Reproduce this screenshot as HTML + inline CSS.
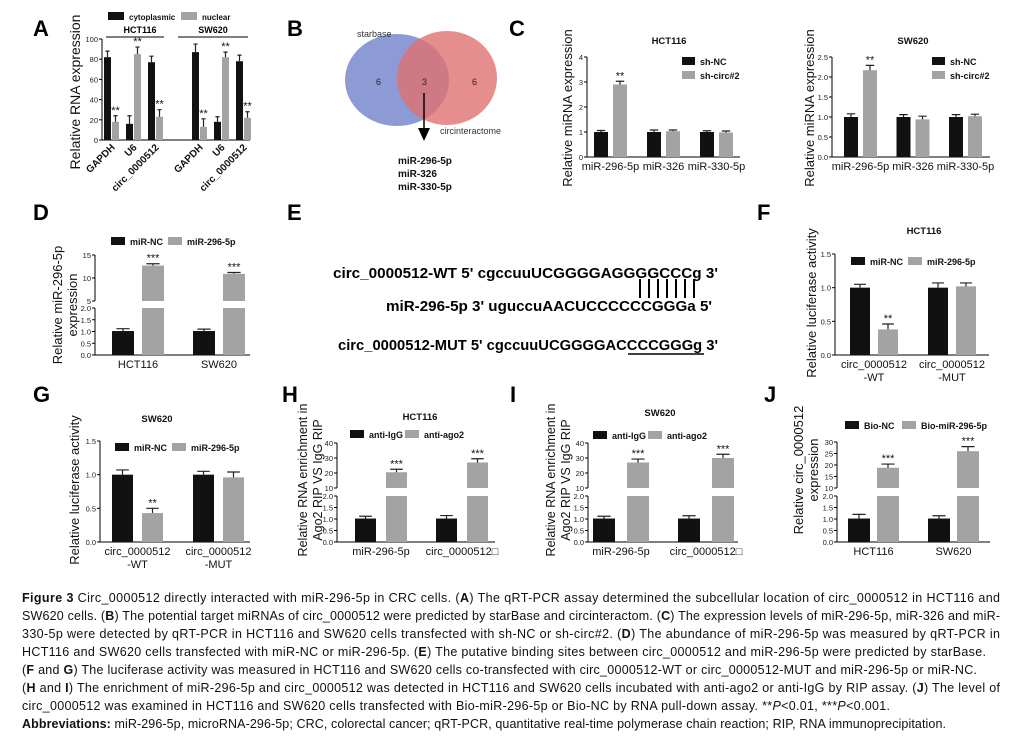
<!DOCTYPE html>
<html><head><meta charset="utf-8">
<style>
html,body{margin:0;padding:0;background:#fff;}
svg{display:block;font-family:"Liberation Sans",Arial,sans-serif;}
</style></head>
<body>
<svg id="fig" width="1015" height="739" viewBox="0 0 1015 739" xmlns="http://www.w3.org/2000/svg">
<rect width="1015" height="739" fill="#fff"/>
<g font-weight="bold" font-size="22" fill="#000">
<text x="33" y="36">A</text>
<text x="287" y="36">B</text>
<text x="509" y="36">C</text>
<text x="33" y="220">D</text>
<text x="287" y="220">E</text>
<text x="757" y="220">F</text>
<text x="33" y="402">G</text>
<text x="282" y="402">H</text>
<text x="510" y="402">I</text>
<text x="764" y="402">J</text>
</g>

<!-- Panel B venn -->
<g>
<ellipse cx="397" cy="80" rx="52" ry="46" fill="#7f8fd0" opacity="0.9"/>
<ellipse cx="447" cy="78" rx="50" ry="47" fill="#e07070" opacity="0.8"/>
<text x="357" y="37" font-size="9" fill="#333">starbase</text>
<text x="440" y="134" font-size="9" fill="#333">circinteractome</text>
<text x="376" y="85" font-size="9" fill="#222">6</text>
<text x="422" y="85" font-size="9" fill="#222">3</text>
<text x="472" y="85" font-size="9" fill="#222">6</text>
<line x1="424" y1="93" x2="424" y2="130" stroke="#000" stroke-width="1.5"/>
<polygon points="418,128 430,128 424,141" fill="#000"/>
<g font-size="10" font-weight="bold" fill="#111">
<text x="398" y="164">miR-296-5p</text>
<text x="398" y="177">miR-326</text>
<text x="398" y="190">miR-330-5p</text>
</g>
</g>

<!-- Panel E sequences -->
<g font-weight="bold" font-size="14.5" fill="#000">
<text x="333" y="278" textLength="385" lengthAdjust="spacingAndGlyphs">circ_0000512-WT  5' cgccuuUCGGGGAGGGGCCCg 3'</text>
<text x="386" y="311" textLength="326" lengthAdjust="spacingAndGlyphs">miR-296-5p   3' uguccuAACUCCCCCCGGGa 5'</text>
<text x="338" y="350" textLength="380" lengthAdjust="spacingAndGlyphs">circ_0000512-MUT  5' cgccuuUCGGGGACCCCGGGg 3'</text>
<g stroke="#000" stroke-width="2">
<line x1="640" y1="279" x2="640" y2="298"/><line x1="649" y1="279" x2="649" y2="298"/><line x1="658" y1="279" x2="658" y2="298"/><line x1="667" y1="279" x2="667" y2="298"/><line x1="676" y1="279" x2="676" y2="298"/><line x1="685" y1="279" x2="685" y2="298"/><line x1="694" y1="279" x2="694" y2="298"/>
</g>
<line x1="628" y1="354" x2="704" y2="354" stroke="#000" stroke-width="1.5"/>
</g>

<g id="charts"></g>

<!-- Caption -->
<g font-size="12.5" fill="#111">
<text x="22" y="602" textLength="978" lengthAdjust="spacing"><tspan font-weight="bold">Figure 3</tspan> Circ_0000512 directly interacted with miR-296-5p in CRC cells. (<tspan font-weight="bold">A</tspan>) The qRT-PCR assay determined the subcellular location of circ_0000512 in HCT116 and</text>
<text x="22" y="620" textLength="978" lengthAdjust="spacing">SW620 cells. (<tspan font-weight="bold">B</tspan>) The potential target miRNAs of circ_0000512 were predicted by starBase and circinteractom. (<tspan font-weight="bold">C</tspan>) The expression levels of miR-296-5p, miR-326 and miR-</text>
<text x="22" y="638" textLength="978" lengthAdjust="spacing">330-5p were detected by qRT-PCR in HCT116 and SW620 cells transfected with sh-NC or sh-circ#2. (<tspan font-weight="bold">D</tspan>) The abundance of miR-296-5p was measured by qRT-PCR in</text>
<text x="22" y="656" textLength="964" lengthAdjust="spacing">HCT116 and SW620 cells transfected with miR-NC or miR-296-5p. (<tspan font-weight="bold">E</tspan>) The putative binding sites between circ_0000512 and miR-296-5p were predicted by starBase.</text>
<text x="22" y="674" textLength="955" lengthAdjust="spacing">(<tspan font-weight="bold">F</tspan> and <tspan font-weight="bold">G</tspan>) The luciferase activity was measured in HCT116 and SW620 cells co-transfected with circ_0000512-WT or circ_0000512-MUT and miR-296-5p or miR-NC.</text>
<text x="22" y="692" textLength="978" lengthAdjust="spacing">(<tspan font-weight="bold">H</tspan> and <tspan font-weight="bold">I</tspan>) The enrichment of miR-296-5p and circ_0000512 was detected in HCT116 and SW620 cells incubated with anti-ago2 or anti-IgG by RIP assay. (<tspan font-weight="bold">J</tspan>) The level of</text>
<text x="22" y="710" textLength="868" lengthAdjust="spacing">circ_0000512 was examined in HCT116 and SW620 cells transfected with Bio-miR-296-5p or Bio-NC by RNA pull-down assay. **<tspan font-style="italic">P</tspan>&lt;0.01, ***<tspan font-style="italic">P</tspan>&lt;0.001.</text>
<text x="22" y="728" textLength="924" lengthAdjust="spacing"><tspan font-weight="bold">Abbreviations:</tspan> miR-296-5p, microRNA-296-5p; CRC, colorectal cancer; qRT-PCR, quantitative real-time polymerase chain reaction; RIP, RNA immunoprecipitation.</text>
</g>
</svg>

<script>
// ---- data ----
const aCategories = ["GAPDH","U6","circ_0000512","GAPDH","U6","circ_0000512"];
const aCyto = [82,16,77,87,18,78];
const aCytoErr = [6,8,6,8,5,6];
const aNuclear = [18,85,23,13,82,22];
const aNuclearErr = [6,7,7,8,5,6];
const aStars = ["**","**","**","**","**","**"];
const aTicks = [0,20,40,60,80,100];

const cCategories = ["miR-296-5p","miR-326","miR-330-5p"];
const cHctNC = [1.0,1.0,1.0];
const cHctNCErr = [0.06,0.08,0.05];
const cHctSh = [2.9,1.03,0.98];
const cHctShErr = [0.13,0.05,0.06];
const cHctTicks = [0,1,2,3,4];
const cSwNC = [1.0,1.0,1.0];
const cSwNCErr = [0.08,0.06,0.06];
const cSwSh = [2.17,0.94,1.02];
const cSwShErr = [0.12,0.08,0.05];
const cSwTicks = [0,0.5,1.0,1.5,2.0,2.5];
const cStars = ["**","",""];

const dCategories = ["HCT116","SW620"];
const dNC = [1.02,1.02];
const dNCErr = [0.1,0.08];
const dMir = [12.7,10.9];
const dMirErr = [0.4,0.3];
const dLowTicks = [0,0.5,1.0,1.5,2.0];
const dHighTicks = [5,10,15];

const fgCategories = [["circ_0000512","-WT"],["circ_0000512","-MUT"]];
const fNC = [1.0,1.0];
const fNCErr = [0.05,0.07];
const fMir = [0.38,1.02];
const fMirErr = [0.08,0.05];
const gNC = [1.0,1.0];
const gNCErr = [0.07,0.05];
const gMir = [0.43,0.96];
const gMirErr = [0.07,0.08];
const fgTicks = [0,0.5,1.0,1.5];
const fgStars = ["**",""];

const hiCategories = ["miR-296-5p","circ_0000512\u25A1"];
const hIgG = [1.02,1.02];
const hIgGErr = [0.1,0.13];
const hAgo = [20.5,27];
const hAgoErr = [2,2.5];
const iIgG = [1.02,1.02];
const iIgGErr = [0.1,0.12];
const iAgo = [27,30];
const iAgoErr = [2.3,2.5];
const hiLowTicks = [0,0.5,1.0,1.5,2.0];
const hiHighTicks = [10,20,30,40];

const jCategories = ["HCT116","SW620"];
const jNC = [1.02,1.02];
const jNCErr = [0.18,0.12];
const jBio = [18.8,26];
const jBioErr = [1.6,2];
const jLowTicks = [0,0.5,1.0,1.5,2.0];
const jHighTicks = [10,15,20,25,30];
const threeStars = ["***","***"];

// ---- drawing ----
const NS = "http://www.w3.org/2000/svg";
const root = document.getElementById("charts");
function mk(tag, attrs, parent){ const e=document.createElementNS(NS,tag); for(const k in attrs) e.setAttribute(k,attrs[k]); (parent||root).appendChild(e); return e; }
function fmt(v, dec){ return dec ? v.toFixed(dec) : String(v); }

function chart(c){
  const g = mk("g",{});
  
  
  let yScale;
  if(c.broken){
    const b=c.broken;
    yScale = v => v<=b.lowMax ? c.y0-(v/b.lowMax)*(c.y0-b.lowTop) : b.upBot-(v-b.upMin)/(b.upMax-b.upMin)*(b.upBot-b.upTop);
  } else {
    yScale = v => c.y0-(v-0)/(c.max)*(c.y0-c.yTop);
  }
  const ax = mk("g",{stroke:"#000","stroke-width":"1"},g);
  
  
  mk("line",{x1:c.ax,y1:c.y0,x2:c.axEnd,y2:c.y0},ax);
  const tickSets = c.broken ? [c.lowTicks,c.highTicks] : [c.ticks];
  tickSets.forEach((ts,si)=>{
    const top = yScale(ts[ts.length-1]), bot = yScale(ts[0]);
    mk("line",{x1:c.ax,y1:top,x2:c.ax,y2:bot},ax);
    ts.forEach(t=>{
      const y=yScale(t);
      mk("line",{x1:c.ax-3,y1:y,x2:c.ax,y2:y},ax);
      const tl = mk("text",{x:c.ax-4,y:y+3,"font-size":"7.5","text-anchor":"end",fill:"#222",stroke:"none"},g);
      
      
      tl.textContent = fmt(t, c.broken&&si===0 ? 1 : c.dec);
    });
  });
  c.series.forEach((s,si)=>{
    s.values.forEach((v,i)=>{
      const gx = c.x0 + i*c.pitch + (c.extraGap? Math.floor(i/c.extraEvery)*c.extraGap : 0) + si*c.offset;
      const addRect=(y1,y2)=>{ const r=mk("rect",{x:gx,y:y1,width:c.bw,height:Math.max(0,y2-y1),fill:s.color},g);
        
         };
      if(c.broken && v>c.broken.lowMax){
        addRect(yScale(c.broken.lowMax), c.y0);
        addRect(yScale(v), c.broken.upBot);
      } else addRect(yScale(v), c.y0);
      const cx=gx+c.bw/2, yt=yScale(v), ye=yScale(v+s.errs[i]);
      const eb=mk("path",{d:`M${cx},${yt}V${ye}M${cx-c.bw*0.3},${ye}H${cx+c.bw*0.3}`,stroke:"#222","stroke-width":"1.2",fill:"none"},g);
      
      
      if(s.stars && s.stars[i]){
        const st=mk("text",{x:cx,y:ye-2,"font-size":c.starSize||"11","text-anchor":"middle",fill:"#111"},g);
        
        
        st.textContent=s.stars[i];
      }
    });
  });
  c.categories.forEach((cat,i)=>{
    const gx = c.x0 + i*c.pitch + (c.extraGap? Math.floor(i/c.extraEvery)*c.extraGap : 0);
    const cx = gx + (c.offset + c.bw)/2;
    if(c.rotate){
      const t=mk("text",{x:cx+4,y:c.y0+8,"font-size":"10","font-weight":"bold","text-anchor":"end",transform:`rotate(-45 ${cx+4} ${c.y0+8})`,fill:"#111"},g);
      
      
      t.textContent=cat;
    } else {
      const lines = Array.isArray(cat)?cat:[cat];
      lines.forEach((ln,li)=>{
        const t=mk("text",{x:cx,y:c.y0+13+li*13,"font-size":"11","text-anchor":"middle",fill:"#111"},g);
        
        
        t.textContent=ln;
      });
    }
  });
  c.ylabel.forEach((ln,li)=>{
    const x=c.ylx+li*15;
    const t=mk("text",{x:x,y:c.yly,"font-size":c.ylSize||"13","text-anchor":"middle",transform:`rotate(-90 ${x} ${c.yly})`,fill:"#111"},g);
    
    
    t.textContent=ln;
  });
  if(c.title){
    const t=mk("text",{x:c.title[1],y:c.title[2],"font-size":"9.5","font-weight":"bold","text-anchor":"middle",fill:"#111"},g);
    
    
    t.textContent=c.title[0];
  }
  if(c.legend){
    const L=c.legend;
    c.series.forEach((s,si)=>{
      const lx = L.vertical ? L.x : L.x + si*L.dx;
      const ly = L.vertical ? L.y + si*14 : L.y;
      const r=mk("rect",{x:lx,y:ly-5,width:L.sw||14,height:8,fill:s.color},g);
      
      
      const t=mk("text",{x:lx+(L.sw||14)+5,y:ly+3,"font-size":L.fs||"9","font-weight":"bold",fill:"#111"},g);
      
      
      t.textContent=s.label;
    });
  }
  return g;
}
const BLK="#111", GRY="#a3a3a3";

// A
const gA = chart({name:"chart-a",ax:102,axEnd:250,y0:140,yTop:39,max:100,ticks:aTicks,
  x0:104,pitch:22,extraGap:22,extraEvery:3,offset:8,bw:7,categories:aCategories,rotate:true,
  series:[{key:"cytoplasmic",label:"cytoplasmic",color:BLK,values:aCyto,errs:aCytoErr},
          {key:"nuclear",label:"nuclear",color:GRY,values:aNuclear,errs:aNuclearErr,stars:aStars}],
  ylabel:["Relative RNA expression"],ylx:80,yly:92,ylSize:"14",
  legend:{x:108,y:17,dx:73,sw:16,fs:"8"}});
[["HCT116",106,164,140],["SW620",178,248,213]].forEach(h=>{
  const l=mk("line",{x1:h[1],y1:37,x2:h[2],y2:37,stroke:"#000","stroke-width":"1"},gA);
  
  
  const t=mk("text",{x:h[3],y:33,"font-size":"9","font-weight":"bold","text-anchor":"middle"},gA);
  
  
  t.textContent=h[0];
});

// C
chart({name:"chart-c-hct116",ax:587,axEnd:740,y0:157,yTop:57,max:4,ticks:cHctTicks,
  x0:594,pitch:53,offset:19,bw:14,categories:cCategories,
  series:[{key:"sh-nc",label:"sh-NC",color:BLK,values:cHctNC,errs:cHctNCErr},
          {key:"sh-circ2",label:"sh-circ#2",color:GRY,values:cHctSh,errs:cHctShErr,stars:cStars}],
  ylabel:["Relative  miRNA expression"],ylx:572,yly:108,title:["HCT116",669,44],
  legend:{x:682,y:62,vertical:true,sw:13}});
chart({name:"chart-c-sw620",ax:832,axEnd:990,y0:157,yTop:57,max:2.5,ticks:cSwTicks,dec:1,
  x0:844,pitch:52.5,offset:19,bw:14,categories:cCategories,
  series:[{key:"sh-nc",label:"sh-NC",color:BLK,values:cSwNC,errs:cSwNCErr},
          {key:"sh-circ2",label:"sh-circ#2",color:GRY,values:cSwSh,errs:cSwShErr,stars:cStars}],
  ylabel:["Relative  miRNA expression"],ylx:814,yly:108,title:["SW620",913,44],
  legend:{x:932,y:62,vertical:true,sw:13}});

// D
chart({name:"chart-d",ax:95,axEnd:250,y0:355,broken:{lowMax:2,lowTop:308,upMin:5,upMax:15,upBot:301,upTop:255},
  lowTicks:dLowTicks,highTicks:dHighTicks,x0:112,pitch:81,offset:30,bw:22,categories:dCategories,
  series:[{key:"mir-nc",label:"miR-NC",color:BLK,values:dNC,errs:dNCErr},
          {key:"mir-296",label:"miR-296-5p",color:GRY,values:dMir,errs:dMirErr,stars:threeStars}],
  ylabel:["Relative  miR-296-5p","expression"],ylx:62,yly:305,legend:{x:111,y:242,dx:57}});

// F
chart({name:"chart-f",ax:835,axEnd:989,y0:355,yTop:254,max:1.5,ticks:fgTicks,dec:1,
  x0:850,pitch:78,offset:28,bw:20,categories:fgCategories,
  series:[{key:"mir-nc",label:"miR-NC",color:BLK,values:fNC,errs:fNCErr},
          {key:"mir-296",label:"miR-296-5p",color:GRY,values:fMir,errs:fMirErr,stars:fgStars}],
  ylabel:["Relative luciferase activity"],ylx:816,yly:303,title:["HCT116",924,234],
  legend:{x:851,y:262,dx:57}});

// G
chart({name:"chart-g",ax:100,axEnd:250,y0:542,yTop:441,max:1.5,ticks:fgTicks,dec:1,
  x0:112,pitch:81,offset:30,bw:21,categories:fgCategories,
  series:[{key:"mir-nc",label:"miR-NC",color:BLK,values:gNC,errs:gNCErr},
          {key:"mir-296",label:"miR-296-5p",color:GRY,values:gMir,errs:gMirErr,stars:fgStars}],
  ylabel:["Relative luciferase activity"],ylx:79,yly:490,title:["SW620",157,422],
  legend:{x:115,y:448,dx:57}});

// H
chart({name:"chart-h",ax:337,axEnd:495,y0:542,broken:{lowMax:2,lowTop:496,upMin:10,upMax:40,upBot:488,upTop:443},
  lowTicks:hiLowTicks,highTicks:hiHighTicks,x0:355,pitch:81,offset:31,bw:21,categories:hiCategories,
  series:[{key:"anti-igg",label:"anti-IgG",color:BLK,values:hIgG,errs:hIgGErr},
          {key:"anti-ago2",label:"anti-ago2",color:GRY,values:hAgo,errs:hAgoErr,stars:threeStars}],
  ylabel:["Relative RNA enrichment in","Ago2 RIP VS IgG RIP"],ylx:307,yly:480,ylSize:"12.5",
  title:["HCT116",420,420],legend:{x:350,y:435,dx:55}});

// I
chart({name:"chart-i",ax:588,axEnd:738,y0:542,broken:{lowMax:2,lowTop:496,upMin:10,upMax:40,upBot:488,upTop:443},
  lowTicks:hiLowTicks,highTicks:hiHighTicks,x0:593,pitch:85,offset:34,bw:22,categories:hiCategories,
  series:[{key:"anti-igg",label:"anti-IgG",color:BLK,values:iIgG,errs:iIgGErr},
          {key:"anti-ago2",label:"anti-ago2",color:GRY,values:iAgo,errs:iAgoErr,stars:threeStars}],
  ylabel:["Relative RNA enrichment in","Ago2 RIP VS IgG RIP"],ylx:555,yly:480,ylSize:"12.5",
  title:["SW620",660,416],legend:{x:593,y:436,dx:55}});

// J
chart({name:"chart-j",ax:837,axEnd:990,y0:542,broken:{lowMax:2,lowTop:496,upMin:10,upMax:30,upBot:488,upTop:442},
  lowTicks:jLowTicks,highTicks:jHighTicks,x0:848,pitch:80,offset:29,bw:22,categories:jCategories,
  series:[{key:"bio-nc",label:"Bio-NC",color:BLK,values:jNC,errs:jNCErr},
          {key:"bio-mir",label:"Bio-miR-296-5p",color:GRY,values:jBio,errs:jBioErr,stars:threeStars}],
  ylabel:["Relative  circ_0000512","expression"],ylx:803,yly:470,legend:{x:845,y:426,dx:57}});
</script>
</body></html>
